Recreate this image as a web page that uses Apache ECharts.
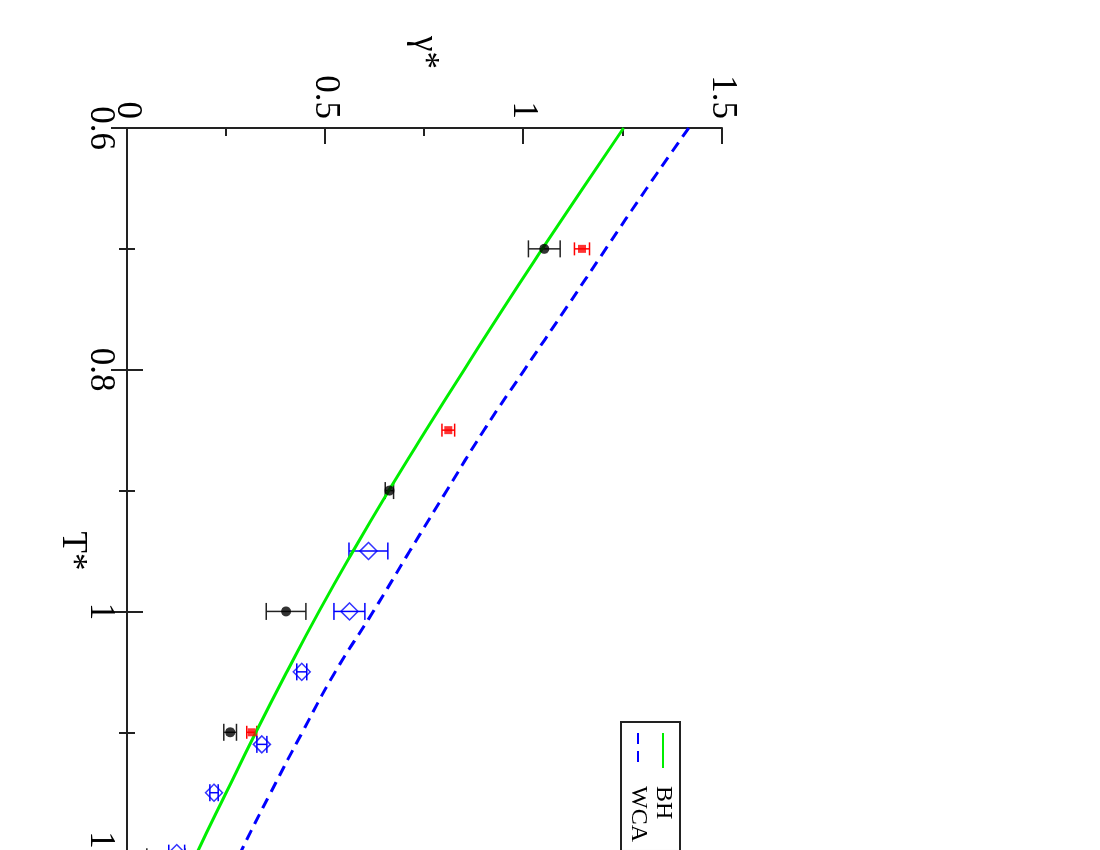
<!DOCTYPE html>
<html>
<head>
<meta charset="utf-8">
<script src="https://cdn.jsdelivr.net/npm/echarts@6/dist/echarts.min.js"></script>
<style>
  html, body { margin: 0; padding: 0; width: 1100px; height: 850px; overflow: hidden; background: #fff; }
  /* the chart is drawn upright and turned a quarter turn clockwise, like the reference */
  #chart {
    position: absolute; left: 0; top: 0;
    width: 1100px; height: 1100px;
    transform-origin: 0 0;
    transform: translate(1100px, 0) rotate(90deg);
  }
</style>
</head>
<body>
<div id="chart"></div>
<script>
// theory curves, T* vs gamma*
const curveT = [0.6, 0.65, 0.7, 0.75, 0.8, 0.85, 0.9, 0.95, 1.0, 1.05, 1.1, 1.15, 1.2, 1.25, 1.3]
const bhGamma = [1.252, 1.149, 1.047, 0.947, 0.850, 0.754, 0.660, 0.570, 0.484, 0.403, 0.325, 0.250, 0.176, 0.105, 0.04]
const wcaGamma = [1.416, 1.310, 1.207, 1.105, 1.002, 0.900, 0.806, 0.713, 0.621, 0.525, 0.442, 0.362, 0.285, 0.21, 0.135]

// simulation points with error bars
const blackT = [0.7, 0.9, 1.0, 1.1, 1.203]
const blackGamma = [1.052, 0.6615, 0.401, 0.260, 0.098]
const blackErr = [0.040, 0.0105, 0.050, 0.016, 0.048]

const redT = [0.7, 0.85, 1.1]
const redGamma = [1.147, 0.810, 0.3145]
const redErr = [0.019, 0.016, 0.0126]

const blueT = [0.95, 1.0, 1.05, 1.11, 1.15, 1.2]
const blueGamma = [0.6086, 0.5607, 0.4406, 0.340, 0.2194, 0.1253]
const blueErr = [0.049, 0.039, 0.0126, 0.0126, 0.0105, 0.02]

const serif = 'Liberation Serif'
const axisColor = '#222'

const pairs = (xs, ys) => xs.map((x, i) => [x, ys[i]])
const bars = (xs, ys, es) => xs.map((x, i) => [x, ys[i] - es[i], ys[i] + es[i]])

const errorBars = (name, data, color, cap) => ({
    name: name,
    type: 'custom',
    data: data,
    encode: { x: 0, y: [1, 2] },
    z: 3,
    renderItem: (params, api) => {
        const lo = api.coord([api.value(0), api.value(1)])
        const hi = api.coord([api.value(0), api.value(2)])
        const style = { stroke: color, lineWidth: 1.5 }
        return {
            type: 'group',
            children: [
                { type: 'line', shape: { x1: lo[0], y1: lo[1], x2: hi[0], y2: hi[1] }, style: style },
                { type: 'line', shape: { x1: lo[0] - cap, y1: lo[1], x2: lo[0] + cap, y2: lo[1] }, style: style },
                { type: 'line', shape: { x1: hi[0] - cap, y1: hi[1], x2: hi[0] + cap, y2: hi[1] }, style: style },
            ],
        }
    },
})

const tAxis = (pos, show) => ({
    type: 'value',
    position: pos,
    min: 0.6,
    max: 1.3,
    interval: 0.2,
    name: show ? 'T*' : '',
    nameLocation: 'middle',
    nameGap: 37,
    nameMoveOverlap: false,
    nameTextStyle: { fontFamily: serif, fontSize: 35, color: '#000' },
    axisLine: { show: true, lineStyle: { color: axisColor, width: 2 } },
    axisTick: { show: true, inside: true, length: 16, lineStyle: { color: axisColor, width: 2 } },
    minorTick: { show: true, splitNumber: 2, length: 8, lineStyle: { color: axisColor, width: 2 } },
    axisLabel: { show: show, margin: 9, fontFamily: serif, fontSize: 35, color: '#000' },
    splitLine: { show: false },
})

const gAxis = (pos, show) => ({
    type: 'value',
    position: pos,
    min: 0,
    max: 1.5,
    interval: 0.5,
    name: show ? 'γ*' : '',
    nameLocation: 'middle',
    nameRotate: 0,
    nameGap: 59,
    nameTextStyle: { fontFamily: serif, fontSize: 35, color: '#000' },
    axisLine: { show: true, lineStyle: { color: axisColor, width: 2 } },
    axisTick: { show: true, inside: true, length: 16, lineStyle: { color: axisColor, width: 2 } },
    minorTick: { show: true, splitNumber: 2, length: 8, lineStyle: { color: axisColor, width: 2 } },
    axisLabel: { show: show, margin: 9, fontFamily: serif, fontSize: 35, color: '#000' },
    splitLine: { show: false },
})

const chart = echarts.init(document.getElementById('chart'))

chart.setOption({
    animation: false,
    backgroundColor: '#fff',
    grid: { left: 128, right: 126, top: 378, bottom: 127 },
    legend: {
        data: ['BH', 'WCA'],
        orient: 'vertical',
        left: 722,
        top: 420,
        padding: [5, 9, 5, 10],
        itemWidth: 35,
        itemHeight: 14,
        itemGap: 1,
        borderColor: '#222',
        borderWidth: 2,
        itemStyle: { opacity: 0, borderWidth: 0 },
        textStyle: { fontFamily: serif, fontSize: 24, color: '#000', lineHeight: 22, padding: [0, 0, 0, 13] },
    },
    xAxis: [tAxis('bottom', true), tAxis('top', false)],
    yAxis: [gAxis('left', true), gAxis('right', false)],
    series: [
        {
            name: 'BH',
            type: 'line',
            data: pairs(curveT, bhGamma),
            smooth: true,
            symbol: 'none',
            color: '#00ee00',
            lineStyle: { color: '#00ee00', width: 3 },
        },
        {
            name: 'WCA',
            type: 'line',
            data: pairs(curveT, wcaGamma),
            smooth: true,
            symbol: 'none',
            color: '#0000ff',
            lineStyle: { color: '#0000ff', width: 3, type: [11, 7] },
        },
        errorBars('blackErr', bars(blackT, blackGamma, blackErr), '#222', 8.5),
        errorBars('redErr', bars(redT, redGamma, redErr), '#ff0000', 6.5),
        errorBars('blueErr', bars(blueT, blueGamma, blueErr), '#0000ff', 8.5),
        {
            name: 'black',
            type: 'scatter',
            data: pairs(blackT, blackGamma),
            symbol: 'circle',
            symbolSize: 10,
            z: 4,
            itemStyle: { color: '#000' },
        },
        {
            name: 'red',
            type: 'scatter',
            data: pairs(redT, redGamma),
            symbol: 'rect',
            symbolSize: 8,
            z: 4,
            itemStyle: { color: '#ff0000' },
        },
        {
            name: 'blue',
            type: 'scatter',
            data: pairs(blueT, blueGamma),
            symbol: 'diamond',
            symbolSize: 17,
            z: 4,
            itemStyle: { color: 'none', borderColor: '#0000ff', borderWidth: 1.5 },
        },
    ],
})
</script>
</body>
</html>
